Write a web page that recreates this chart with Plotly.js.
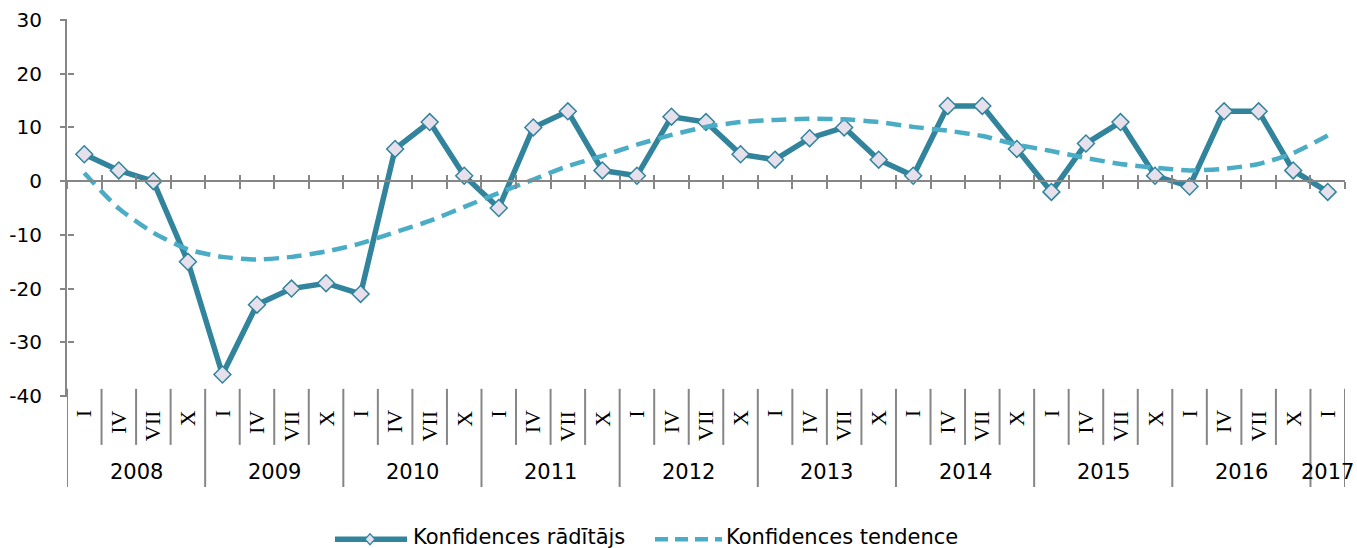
<!DOCTYPE html>
<html>
<head>
<meta charset="utf-8">
<script src="https://cdn.plot.ly/plotly-3.0.1.min.js"></script>
<style>html,body{margin:0;padding:0;background:#fff;}#chart{width:1357px;height:548px;}</style>
</head>
<body>
<div id="chart"></div>
<script>
// ---- data ----
var quarterLabels = ['I','IV','VII','X','I','IV','VII','X','I','IV','VII','X','I','IV','VII','X',
  'I','IV','VII','X','I','IV','VII','X','I','IV','VII','X','I','IV','VII','X','I','IV','VII','X','I'];
var yearLabels = ['2008','2009','2010','2011','2012','2013','2014','2015','2016','2017'];
var yearQuarterCounts = [4,4,4,4,4,4,4,4,4,1];
var confidenceIndex = [5,2,0,-15, -36,-23,-20,-19, -21,6,11,1, -5,10,13,2, 1,12,11,5,
  4,8,10,4, 1,14,14,6, -2,7,11,1, -1,13,13,2, -2];
var confidenceTrend = [1.5,-5.1,-9.6,-12.7, -14.1,-14.6,-14.1,-13.1, -11.6,-9.5,-7.4,-4.8,
  -2.2,0.3,2.8,4.7, 6.8,8.6,10.1,11.0, 11.4,11.6,11.5,11.0, 10.1,9.4,8.4,6.8,
  5.6,4.3,3.2,2.5, 2.0,2.3,3.2,5.2, 8.5];
var yTickVals = [-40,-30,-20,-10,0,10,20,30];
var yTickText = ['-40','-30','-20','-10','0','10','20','30'];
var seriesNames = ['Konfidences rādītājs','Konfidences tendence'];

// ---- styles ----
var axisGray = '#868686';
var mainColor = '#31849B';
var trendColor = '#4BACC6';
var sansFont = 'DejaVu Sans, Verdana, sans-serif';
var serifFont = 'Liberation Serif, Times New Roman, serif';

var idx = confidenceIndex.map(function(_, i){ return i; });
var nCat = quarterLabels.length;
var boundaries = [];
for (var b = 0; b <= nCat; b++) boundaries.push(b - 0.5);

var traces = [
  {
    x: idx, y: confidenceIndex, type: 'scatter', mode: 'lines+markers',
    name: seriesNames[0], showlegend: false,
    line: {color: mainColor, width: 5.5},
    marker: {symbol: 'diamond', size: 13, color: '#E6E0EC', line: {color: mainColor, width: 1.5}},
    hoverinfo: 'skip'
  },
  {
    x: idx, y: confidenceTrend, type: 'scatter', mode: 'lines',
    name: seriesNames[1], showlegend: false,
    line: {color: trendColor, width: 4.5, dash: '15px,8px', shape: 'spline', smoothing: 0.6},
    hoverinfo: 'skip'
  },
  { x: [], y: [], xaxis: 'x2', yaxis: 'y2', type: 'scatter', showlegend: false, hoverinfo: 'skip' },
  { x: [], y: [], xaxis: 'x2', yaxis: 'y3', type: 'scatter', showlegend: false, hoverinfo: 'skip' }
];

var annotations = [];
var shapes = [];

// quarter labels (rotated)
quarterLabels.forEach(function(q, i){
  annotations.push({
    x: i, xref: 'x', y: -0.033, yref: 'paper', text: q, showarrow: false,
    textangle: -90, xanchor: 'center', yanchor: 'top',
    font: {family: serifFont, size: 22, color: '#000'}
  });
});
// year labels
var start = 0;
yearLabels.forEach(function(yl, k){
  var cnt = yearQuarterCounts[k];
  annotations.push({
    x: start + (cnt - 1) / 2, xref: 'x', y: -0.202, yref: 'paper', text: yl, showarrow: false,
    xanchor: 'center', yanchor: 'middle',
    font: {family: sansFont, size: 21, color: '#000'}
  });
  start += cnt;
});
// separators
var yearBoundaries = [-0.5];
var acc = 0;
yearQuarterCounts.forEach(function(c){ acc += c; yearBoundaries.push(acc - 0.5); });
boundaries.forEach(function(bx){
  var isYear = yearBoundaries.indexOf(bx) >= 0;
  shapes.push({
    type: 'line', xref: 'x', yref: 'paper', x0: bx, x1: bx,
    y0: 0.019, y1: isYear ? -0.242 : -0.130,
    line: {color: axisGray, width: 2}
  });
});

// custom legend
var legY = -0.381;
var legTextY = -0.375;
function px2x(p){ return (p - 67) / 1278; }
shapes.push({type: 'line', xref: 'paper', yref: 'paper', x0: px2x(335), x1: px2x(407), y0: legY, y1: legY,
  line: {color: mainColor, width: 5.5}});
shapes.push({type: 'path', xref: 'paper', yref: 'paper', xsizemode: 'pixel', ysizemode: 'pixel',
  xanchor: px2x(370), yanchor: legY, path: 'M0,5.5 L5,0 L0,-5.5 L-5,0 Z',
  fillcolor: '#E6E0EC', line: {color: mainColor, width: 1.2}});
shapes.push({type: 'line', xref: 'paper', yref: 'paper', x0: px2x(655), x1: px2x(722), y0: legY, y1: legY,
  line: {color: trendColor, width: 4.5, dash: '13px,7px'}});
annotations.push({x: px2x(411), xref: 'paper', y: legTextY, yref: 'paper', text: seriesNames[0],
  showarrow: false, xanchor: 'left', yanchor: 'middle', font: {family: sansFont, size: 21, color: '#000'}});
annotations.push({x: px2x(724), xref: 'paper', y: legTextY, yref: 'paper', text: seriesNames[1],
  showarrow: false, xanchor: 'left', yanchor: 'middle', font: {family: sansFont, size: 21, color: '#000'}});

var layout = {
  width: 1357, height: 548,
  margin: {l: 67, r: 12, t: 20, b: 152, pad: 0},
  paper_bgcolor: '#fff', plot_bgcolor: '#fff',
  showlegend: false,
  xaxis: {
    range: [-0.5, nCat - 0.5], anchor: 'free', position: 40/70,
    showline: true, linecolor: axisGray, linewidth: 2,
    ticks: 'outside', ticklen: 7, tickwidth: 2, tickcolor: axisGray,
    tickmode: 'array', tickvals: boundaries, showticklabels: false,
    showgrid: false, zeroline: false, fixedrange: true
  },
  xaxis2: {
    range: [-0.5, nCat - 0.5], overlaying: 'x', anchor: 'free', position: 40/70,
    showline: false, ticks: 'inside', ticklen: 6, tickwidth: 2, tickcolor: axisGray,
    tickmode: 'array', tickvals: boundaries, showticklabels: false,
    showgrid: false, zeroline: false
  },
  yaxis: {
    range: [-40, 30], showline: true, linecolor: axisGray, linewidth: 2,
    ticks: 'outside', ticklen: 19, tickwidth: 2, tickcolor: 'rgba(0,0,0,0)',
    tickmode: 'array', tickvals: yTickVals, ticktext: yTickText,
    tickfont: {family: sansFont, size: 20, color: '#000'},
    showgrid: false, zeroline: false, fixedrange: true
  },
  yaxis2: {
    range: [-40, 30], overlaying: 'y', anchor: 'free', position: 0, side: 'left',
    showline: false, ticks: 'outside', ticklen: 7, tickwidth: 2, tickcolor: axisGray,
    tickmode: 'array', tickvals: yTickVals, showticklabels: false,
    showgrid: false, zeroline: false
  },
  yaxis3: {
    range: [-40, 30], overlaying: 'y', anchor: 'free', position: 0, side: 'left',
    showline: false, ticks: 'inside', ticklen: 6, tickwidth: 2, tickcolor: axisGray,
    tickmode: 'array', tickvals: yTickVals, showticklabels: false,
    showgrid: false, zeroline: false
  },
  annotations: annotations,
  shapes: shapes
};

Plotly.newPlot('chart', traces, layout, {staticPlot: true, displayModeBar: false});
</script>
</body>
</html>
